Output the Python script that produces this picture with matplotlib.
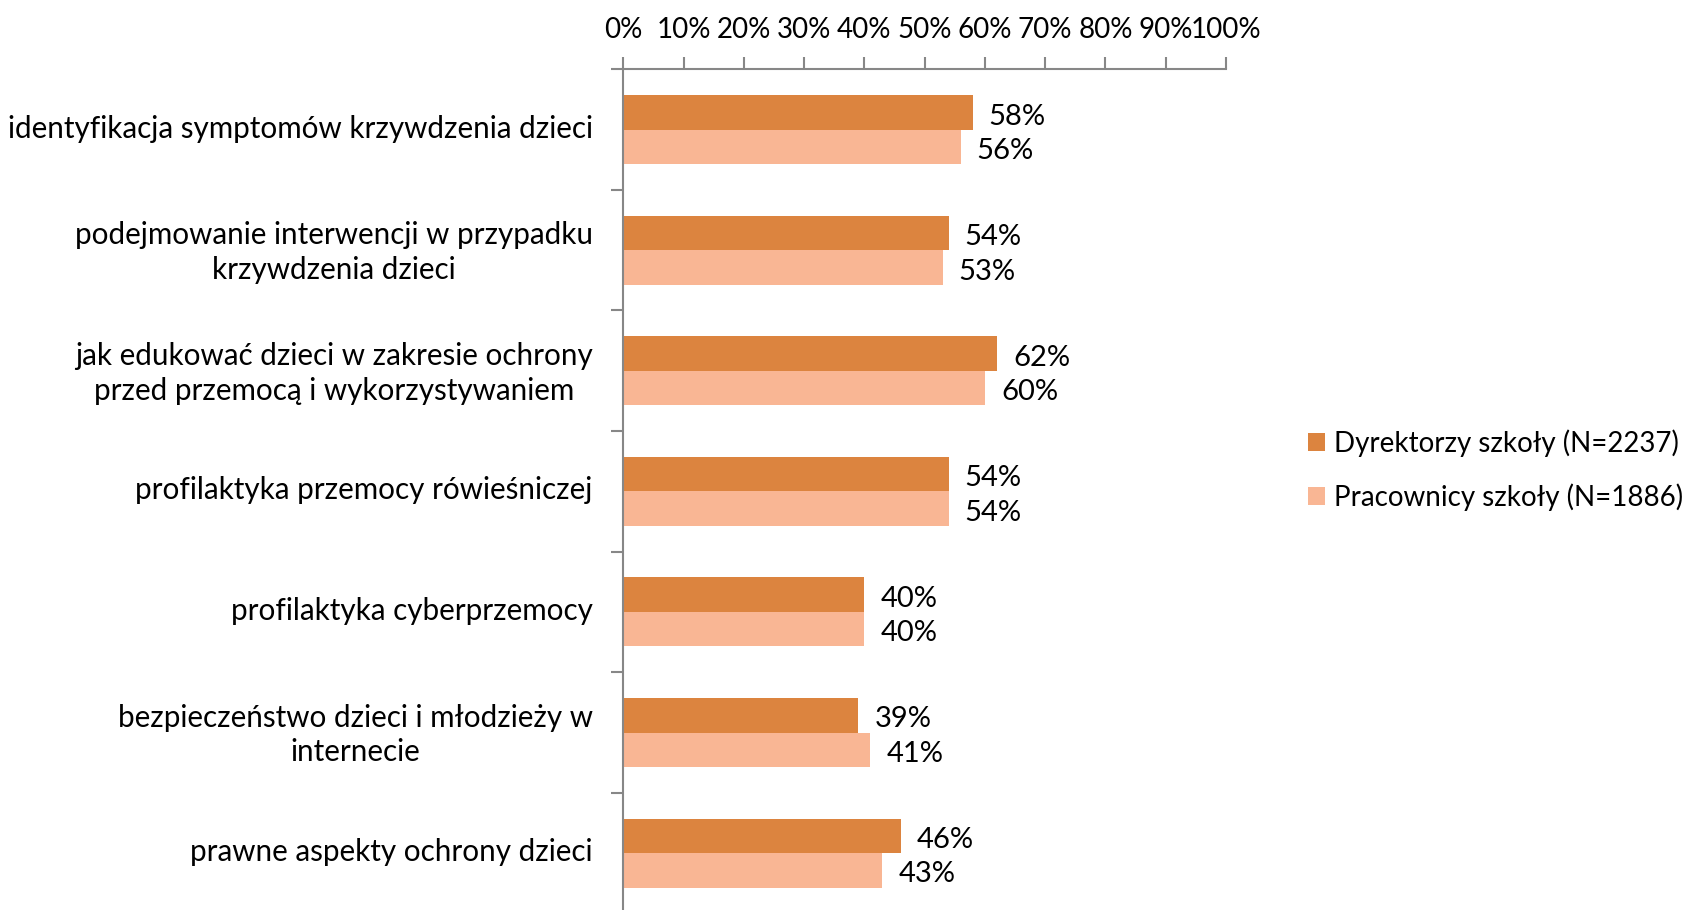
import numpy as np
import matplotlib
matplotlib.use("Agg")
import matplotlib.pyplot as plt
from matplotlib.transforms import ScaledTranslation

plt.rcParams["font.family"] = ["Lato", "DejaVu Sans"]

# data
categories = [
    "identyfikacja symptomów krzywdzenia dzieci",
    "podejmowanie interwencji w przypadku\nkrzywdzenia dzieci",
    "jak edukować dzieci w zakresie ochrony\nprzed przemocą i wykorzystywaniem",
    "profilaktyka przemocy rówieśniczej",
    "profilaktyka cyberprzemocy",
    "bezpieczeństwo dzieci i młodzieży w\ninternecie",
    "prawne aspekty ochrony dzieci",
]
dyrektorzy = [58, 54, 62, 54, 40, 39, 46]
pracownicy = [56, 53, 60, 54, 40, 41, 43]
series_names = ["Dyrektorzy szkoły (N=2237)", "Pracownicy szkoły (N=1886)"]
x_ticks = list(range(0, 101, 10))

dark = "#DC843F"
light = "#F9B694"
axis_grey = "#878787"

fig = plt.figure(figsize=(16.98, 9.10), dpi=100)
ax = fig.add_axes([0.3671, -0.0037, 0.3549, 0.9275])

y = np.arange(len(categories))
h = 0.286
b1 = ax.barh(y - h / 2, dyrektorzy, height=h, color=dark, label=series_names[0])
b2 = ax.barh(y + h / 2, pracownicy, height=h, color=light, label=series_names[1])

for bars, vals in [(b1, dyrektorzy), (b2, pracownicy)]:
    labs = ax.bar_label(bars, labels=[f"{v}%" for v in vals], padding=11.5, fontsize=21)
    for t in labs:
        t.set_va("center")
        t.xyann = (11.5, -3)

ax.set_xlim(0, 100)
ax.set_ylim(len(categories) - 0.5, -0.5)

# x axis on top
ax.xaxis.tick_top()
ax.set_xticks(x_ticks)
ax.set_xticklabels([f"{t}%" for t in x_ticks], fontsize=20)
ax.tick_params(axis="x", direction="out", length=9, width=1.5, color=axis_grey, pad=10)

# y ticks at category boundaries, labels at centres
ax.set_yticks(np.arange(-0.5, len(categories), 1))
ax.set_yticklabels([])
ax.tick_params(axis="y", which="major", direction="out", length=9, width=1.5, color=axis_grey)
ax.set_yticks(y, minor=True)
ax.set_yticklabels(categories, minor=True, fontsize=21.3)
ax.tick_params(axis="y", which="minor", length=0, pad=22)
shift_up = ScaledTranslation(0, 2.5 / 72, fig.dpi_scale_trans)
for lab in ax.get_yticklabels(minor=True):
    lab.set_multialignment("center")
    lab.set_linespacing(1.3)
    lab.set_va("center_baseline")
    lab.set_transform(lab.get_transform() + shift_up)

for s in ["right", "bottom"]:
    ax.spines[s].set_visible(False)
for s in ["left", "top"]:
    ax.spines[s].set_color(axis_grey)
    ax.spines[s].set_linewidth(1.5)

fig.legend(
    handles=[b1, b2],
    loc="center left",
    bbox_to_anchor=(1283 / 1698, 1 - 470 / 910),
    frameon=False,
    fontsize=20,
    handlelength=0.6,
    handleheight=0.6,
    handletextpad=0.35,
    labelspacing=0.95,
)

fig.savefig("out.png", dpi=100)
plt.close(fig)
